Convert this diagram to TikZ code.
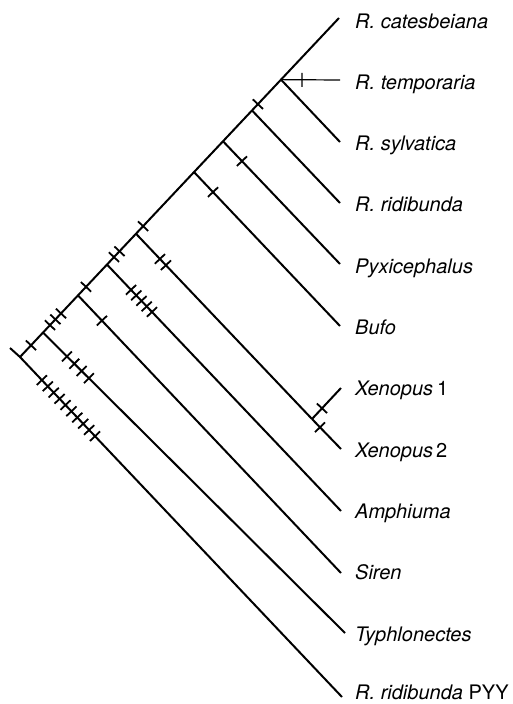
\documentclass[tikz,border=0pt]{standalone}
\usepackage{fontspec}
\setmainfont{TeX Gyre Heros}
\usetikzlibrary{calc,decorations.markings}
\begin{document}
\begin{tikzpicture}[x=1pt,y=-1pt,
  br/.style={line width=2pt},
  thinbr/.style={line width=1.2pt},
  tk/.style={postaction={decorate,decoration={markings,
     mark=at position #1 with {\draw[line width=1.8pt] (0,-7pt) -- (0,7pt);}}}},
  thintk/.style={postaction={decorate,decoration={markings,
     mark=at position #1 with {\draw[line width=1.2pt] (0,-7pt) -- (0,7pt);}}}},
  lab/.style={anchor=base west,inner sep=0pt,font=\fontsize{20}{23}\selectfont\itshape}]
\useasboundingbox (0,0) rectangle (512,704);
% backbone
\coordinate (S) at (10,348);
\coordinate (R0) at (20,357);
\coordinate (tCat) at (339,18);
\coordinate (N1) at ($(R0)!0.0721!(tCat)$);
\coordinate (N2) at ($(R0)!0.1818!(tCat)$);
\coordinate (N3) at ($(R0)!0.2727!(tCat)$);
\coordinate (N4) at ($(R0)!0.3636!(tCat)$);
\coordinate (N5) at ($(R0)!0.5455!(tCat)$);
\coordinate (N6) at ($(R0)!0.6364!(tCat)$);
\coordinate (N7) at ($(R0)!0.7273!(tCat)$);
\coordinate (N8) at ($(R0)!0.8182!(tCat)$);
% tips
\coordinate (tTem) at (340,80);
\coordinate (tSyl) at (340,142);
\coordinate (tRid) at (340,203);
\coordinate (tPyx) at (340,264);
\coordinate (tBuf) at (340,326);
\coordinate (X) at (312,419);
\coordinate (tX1) at (341,388);
\coordinate (tX2) at (341,449);
\coordinate (tAmp) at (341,511);
\coordinate (tSir) at (341,573);
\coordinate (tTyp) at (345,633);
\coordinate (tPYY) at (342,697);
% labels
\node[lab] (lCat) at (355,28) {R. catesbeiana};
\node[lab] (lTem) at (355,89.3) {R. temporaria};
\node[lab] (lSyl) at (355,150.6) {R. sylvatica};
\node[lab] (lRid) at (355,211.9) {R. ridibunda};
\node[lab] (lPyx) at (355,273.2) {Pyxicephalus};
\node[lab] (lBuf) at (355,334.5) {Bufo};
\node[lab] (lX1) at (355,395.8) {Xenopus\kern4pt\upshape 1};
\node[lab] (lX2) at (355,457.1) {Xenopus\kern3pt\upshape 2};
\node[lab] (lAmp) at (355,518.4) {Amphiuma};
\node[lab] (lSir) at (355,579.7) {Siren};
\node[lab] (lTyp) at (355,641) {Typhlonectes};
\node[lab] (lPYY) at (355,699) {R. ridibunda \upshape PYY};
% branches
\draw[br] (S) -- (R0) -- (tCat);
\draw[br] (R0) -- (tPYY);
\draw[br] (N1) -- (tTyp);
\draw[br] (N2) -- (tSir);
\draw[br] (N3) -- (tAmp);
\draw[br] (N4) -- (X);
\draw[br] (X) -- (tX1);
\draw[br] (X) -- (tX2);
\draw[br] (N5) -- (tBuf);
\draw[br] (N6) -- (tPyx);
\draw[br] (N7) -- (tRid);
\draw[br] (N8) -- (tSyl);
\draw[thinbr] (N8) -- (tTem);
% ticks on backbone
\foreach \p in {0.0345,0.094,0.111,0.1285,0.207,0.2947,0.312,0.386,0.746}
  \path[tk=\p] (R0) -- (tCat);
% ticks on branches
\foreach \p in {0.068,0.0863,0.1047,0.123,0.1413,0.1597,0.178,0.1963,0.2147,0.233}
  \path[tk=\p] (R0) -- (tPYY);
\foreach \p in {0.0795,0.1037,0.128,0.152}
  \path[tk=\p] (N1) -- (tTyp);
\path[tk=0.091] (N2) -- (tSir);
\foreach \p in {0.1026,0.125,0.1474,0.1698,0.1923}
  \path[tk=\p] (N3) -- (tAmp);
\foreach \p in {0.136,0.170}
  \path[tk=\p] (N4) -- (X);
\path[tk=0.345] (X) -- (tX1);
\path[tk=0.276] (X) -- (tX2);
\path[tk=0.130] (N5) -- (tBuf);
\path[tk=0.162] (N6) -- (tPyx);
\path[thintk=0.356] (N8) -- (tTem);
\end{tikzpicture}
\end{document}
